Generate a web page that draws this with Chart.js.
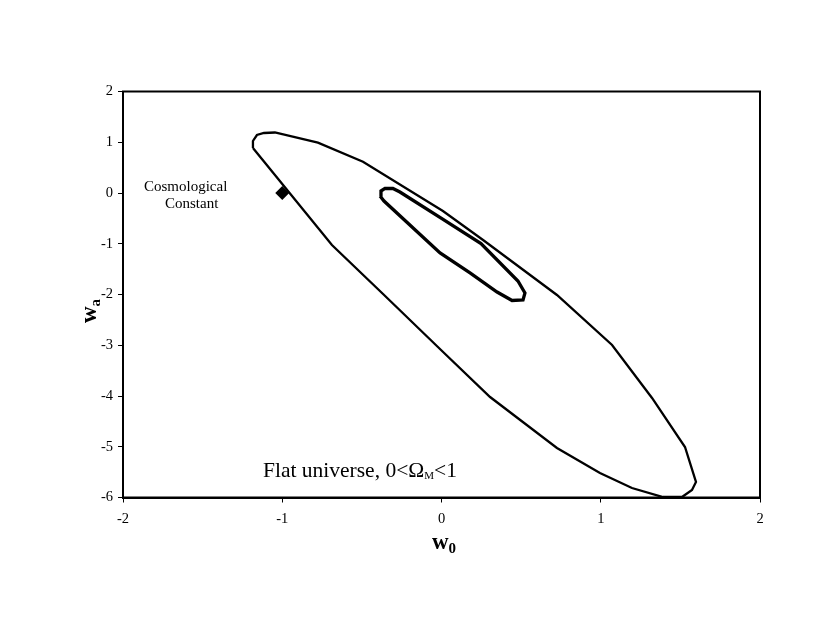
<!DOCTYPE html>
<html>
<head>
<meta charset="utf-8">
<script src="https://cdn.jsdelivr.net/npm/chart.js@4"></script>
<style>
  html, body { margin: 0; padding: 0; background: #fff; }
  #wrap { width: 830px; height: 642px; position: relative; }
</style>
</head>
<body>
<div id="wrap"><canvas id="c" width="830" height="642"></canvas></div>
<script>
// ---- data ----
const outerW0 = [-1.184, -1.184, -1.159, -1.115, -1.046, -0.776, -0.493, 0.009, 0.261, 0.725, 1.071, 1.322, 1.529, 1.598, 1.573, 1.510, 1.391, 1.196, 0.995, 0.725, 0.305, -0.003, -0.367, -0.688, -1.184];
const outerWa = [0.887, 1.025, 1.143, 1.182, 1.192, 0.991, 0.617, -0.355, -0.926, -2.010, -2.995, -4.039, -5.005, -5.695, -5.852, -5.990, -5.990, -5.813, -5.517, -5.025, -4.020, -3.094, -1.990, -1.025, 0.887];
const innerW0 = [-0.386, -0.380, -0.355, -0.305, -0.261, 0.000, 0.248, 0.480, 0.524, 0.512, 0.443, 0.349, 0.179, -0.009, -0.361, -0.386];
const innerWa = [-0.059, 0.039, 0.089, 0.089, 0.020, -0.502, -0.995, -1.734, -1.970, -2.108, -2.118, -1.951, -1.576, -1.182, -0.158, -0.059];
const lambdaW0 = [-1];
const lambdaWa = [0];
const xTicks = [-2, -1, 0, 1, 2];
const yTicks = [2, 1, 0, -1, -2, -3, -4, -5, -6];

const toPts = (xs, ys) => xs.map((x, i) => ({ x: x, y: ys[i] }));

const SERIF = '"Liberation Serif", "Times New Roman", serif';

const frame = {
  id: 'frame',
  afterDraw(chart) {
    const { ctx, chartArea: a } = chart;
    ctx.save();
    ctx.strokeStyle = '#000';
    ctx.lineWidth = 2;
    ctx.strokeRect(a.left, a.top, a.right - a.left, a.bottom - a.top);
    ctx.restore();
  }
};

const labels = {
  id: 'labels',
  afterDraw(chart) {
    const { ctx } = chart;
    ctx.save();
    ctx.fillStyle = '#000';
    ctx.textBaseline = 'alphabetic';
    // x axis title: w0
    ctx.font = 'bold 23px ' + SERIF;
    ctx.textAlign = 'left';
    ctx.fillText('w', 432, 549);
    const ww = ctx.measureText('w').width;
    ctx.font = 'bold 15px ' + SERIF;
    ctx.fillText('0', 432 + ww, 553);
    // y axis title: wa (rotated)
    ctx.save();
    ctx.translate(96, 323);
    ctx.rotate(-Math.PI / 2);
    ctx.font = 'bold 23px ' + SERIF;
    ctx.fillText('w', 0, 0);
    const w2 = ctx.measureText('w').width;
    ctx.font = 'bold 15px ' + SERIF;
    ctx.fillText('a', w2, 4);
    ctx.restore();
    // annotation
    ctx.font = '15px ' + SERIF;
    ctx.fillText('Cosmological', 144, 191);
    ctx.fillText('Constant', 165, 208);
    // flat universe text
    ctx.font = '21.5px ' + SERIF;
    let x = 263, y = 477;
    const t1 = 'Flat universe, 0<\u03A9';
    ctx.fillText(t1, x, y);
    x += ctx.measureText(t1).width;
    ctx.font = '11px ' + SERIF;
    ctx.fillText('M', x, y + 2);
    x += ctx.measureText('M').width;
    ctx.font = '21.5px ' + SERIF;
    ctx.fillText('<1', x, y);
    ctx.restore();
  }
};

new Chart(document.getElementById('c'), {
  type: 'scatter',
  data: {
    datasets: [
      { label: 'outer', data: toPts(outerW0, outerWa), showLine: true, borderColor: '#000', borderWidth: 2.3, pointRadius: 0, fill: false, tension: 0 },
      { label: 'inner', data: toPts(innerW0, innerWa), showLine: true, borderColor: '#000', borderWidth: 3.3, pointRadius: 0, fill: false, tension: 0 },
      { label: 'Cosmological Constant', data: toPts(lambdaW0, lambdaWa), showLine: false, pointStyle: 'rectRot', pointRadius: 7, backgroundColor: '#000', borderColor: '#000', borderWidth: 0 }
    ]
  },
  options: {
    responsive: false,
    animation: false,
    clip: false,
    layout: { padding: { left: 0, top: 91.5, right: 70, bottom: 0 } },
    plugins: { legend: { display: false }, tooltip: { enabled: false } },
    scales: {
      x: {
        type: 'linear',
        min: -2, max: 2,
        afterBuildTicks: (s) => { s.ticks = xTicks.map(v => ({ value: v })); },
        afterFit: (s) => { s.height = 144.5; },
        grid: { display: true, drawOnChartArea: false, drawTicks: true, tickLength: 5, color: '#000', lineWidth: 1 },
        border: { display: true, color: '#000', width: 2 },
        ticks: { color: '#000', font: { family: SERIF, size: 14.5 }, padding: 8, maxRotation: 0 }
      },
      y: {
        type: 'linear',
        min: -6, max: 2,
        afterBuildTicks: (s) => { s.ticks = yTicks.map(v => ({ value: v })); },
        afterFit: (s) => { s.width = 123; },
        grid: { display: true, drawOnChartArea: false, drawTicks: true, tickLength: 5, color: '#000', lineWidth: 1 },
        border: { display: true, color: '#000', width: 2 },
        ticks: { color: '#000', font: { family: SERIF, size: 14.5 }, padding: 5 }
      }
    }
  },
  plugins: [frame, labels]
});
</script>
</body>
</html>
